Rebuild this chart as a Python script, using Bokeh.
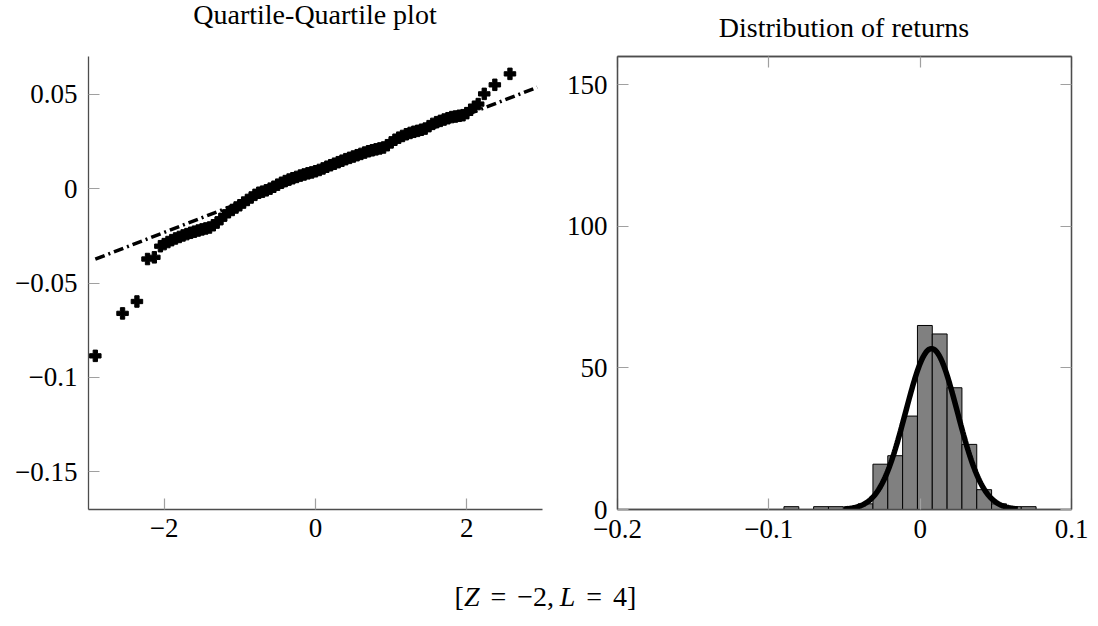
import numpy as np
from bokeh.plotting import figure
from bokeh.models import FixedTicker, LinearAxis, Range1d, Div
from bokeh.layouts import row, column
from bokeh.embed import file_html
from bokeh.resources import INLINE

# ---------------- data ----------------
# Q-Q plot: theoretical quantiles (x) vs. sample quantiles of returns (y)
qq_theoretical = [-2.91, -2.55, -2.36, -2.22, -2.13,
                  -2.05, -2.00, -1.95, -1.90, -1.85, -1.80, -1.75, -1.70, -1.65, -1.60,
                  -1.55, -1.50, -1.45, -1.40, -1.35, -1.30, -1.25, -1.20, -1.15, -1.10,
                  -1.05, -1.00, -0.95, -0.90, -0.85, -0.80, -0.75, -0.70, -0.65, -0.60,
                  -0.55, -0.50, -0.45, -0.40, -0.35, -0.30, -0.25, -0.20, -0.15, -0.10,
                  -0.05, 0.00, 0.05, 0.10, 0.15, 0.20, 0.25, 0.30, 0.35, 0.40,
                  0.45, 0.50, 0.55, 0.60, 0.65, 0.70, 0.75, 0.80, 0.85, 0.90,
                  0.95, 1.00, 1.05, 1.10, 1.15, 1.20, 1.25, 1.30, 1.35, 1.40,
                  1.45, 1.50, 1.55, 1.60, 1.65, 1.70, 1.75, 1.80, 1.85, 1.90,
                  1.95, 2.00, 2.05, 2.10, 2.15,
                  2.23, 2.37, 2.57]
qq_sample = [-0.0886, -0.0661, -0.0598, -0.0373, -0.0364,
             -0.0305, -0.0294, -0.0283, -0.0273, -0.0264, -0.0256, -0.0248, -0.0241, -0.0234, -0.0228,
             -0.0222, -0.0216, -0.0211, -0.0206, -0.0194, -0.0180, -0.0161, -0.0142, -0.0125, -0.0113,
             -0.0100, -0.0088, -0.0074, -0.0060, -0.0047, -0.0033, -0.0022, -0.0016, -0.0009, 0.0000,
             0.0010, 0.0021, 0.0031, 0.0040, 0.0048, 0.0055, 0.0062, 0.0069, 0.0075, 0.0081,
             0.0086, 0.0092, 0.0099, 0.0107, 0.0116, 0.0124, 0.0132, 0.0140, 0.0148, 0.0156,
             0.0163, 0.0170, 0.0177, 0.0184, 0.0191, 0.0198, 0.0203, 0.0208, 0.0213, 0.0218,
             0.0230, 0.0245, 0.0259, 0.0270, 0.0279, 0.0288, 0.0295, 0.0301, 0.0306, 0.0312,
             0.0318, 0.0331, 0.0343, 0.0352, 0.0359, 0.0366, 0.0373, 0.0379, 0.0382, 0.0386,
             0.0389, 0.0400, 0.0418, 0.0434, 0.0448,
             0.0502, 0.0550, 0.0608]

# reference line of the Q-Q plot (mean + sd * z)
ref_intercept = 0.0080
ref_slope = 0.0156
ref_domain = [-2.91, 2.93]

# histogram of returns
bin_edges = [-0.0900, -0.0802, -0.0704, -0.0606, -0.0508, -0.0410, -0.0312, -0.0214,
             -0.0116, -0.0018, 0.0080, 0.0178, 0.0276, 0.0374, 0.0472, 0.0570,
             0.0668, 0.0766]
bin_counts = [1, 0, 1, 1, 0, 2, 16, 19, 33, 65, 62, 43, 23, 7, 2, 1, 1]

# fitted normal curve
fit_mu = 0.0075
fit_sigma = 0.0171
fit_peak = 56.8
fit_domain = [-0.0505, 0.0645]

qq_xticks = [-2, 0, 2]
qq_xlabels = ["\u22122", "0", "2"]
qq_yticks = [-0.15, -0.1, -0.05, 0, 0.05]
qq_ylabels = ["\u22120.15", "\u22120.1", "\u22120.05", "0", "0.05"]
h_xticks = [-0.2, -0.1, 0, 0.1]
h_xlabels = ["\u22120.2", "\u22120.1", "0", "0.1"]
h_yticks = [0, 50, 100, 150]
h_ylabels = ["0", "50", "100", "150"]

titles = ["Quartile-Quartile plot", "Distribution of returns"]
caption_text = "[<i>Z</i> = \u22122,\u2009<i>L</i> = 4]"

FONT = "Liberation Serif"
TICK_FS = "27px"
TITLE_FS = "28px"
AXIS_COLOR = "#4d4d4d"
TICK_COLOR = "#a0a0a0"


def style_axis(ax, ticks, labels, show_labels=True, standoff=10):
    ax.ticker = FixedTicker(ticks=ticks)
    ax.axis_line_color = AXIS_COLOR
    ax.axis_line_width = 1.3
    ax.major_tick_line_color = TICK_COLOR
    ax.major_tick_line_width = 1.2
    ax.major_tick_in = 11
    ax.major_tick_out = 0
    ax.minor_tick_line_color = None
    ax.major_label_text_font = FONT
    if show_labels:
        ax.major_label_overrides = {t: l for t, l in zip(ticks, labels)}
        ax.major_label_text_color = "black"
        ax.major_label_text_font_size = TICK_FS
        ax.major_label_standoff = standoff
    else:
        ax.major_label_text_color = None
        ax.major_label_text_font_size = "1px"
        ax.major_label_standoff = 0


# ---------------- left: Q-Q plot ----------------
p1 = figure(width=552, height=516, x_range=Range1d(-3, 3), y_range=Range1d(-0.17, 0.07),
            output_backend="svg", toolbar_location=None,
            min_border_left=88, min_border_right=10, min_border_top=12, min_border_bottom=51)
p1.grid.visible = False
p1.outline_line_color = None
style_axis(p1.xaxis[0], qq_xticks, qq_xlabels, standoff=9)
style_axis(p1.yaxis[0], qq_yticks, qq_ylabels, standoff=11)

x0, x1 = ref_domain
p1.line([x0, x1], [ref_intercept + ref_slope * x0, ref_intercept + ref_slope * x1],
        line_color="black", line_width=3.5, line_dash="10 4 2 4")
p1.scatter(qq_theoretical, qq_sample, marker="plus", size=11.5, color="black")

# ---------------- right: histogram ----------------
p2 = figure(width=539, height=516, x_range=Range1d(-0.2, 0.1), y_range=Range1d(0, 160),
            output_backend="svg", toolbar_location=None,
            min_border_left=65, min_border_right=20, min_border_top=12, min_border_bottom=51)
p2.grid.visible = False
p2.outline_line_color = AXIS_COLOR
p2.outline_line_width = 1.3
style_axis(p2.xaxis[0], h_xticks, h_xlabels, standoff=10)
style_axis(p2.yaxis[0], h_yticks, h_ylabels, standoff=10)
top_ax = LinearAxis()
style_axis(top_ax, h_xticks, h_xlabels, show_labels=False)
p2.add_layout(top_ax, "above")
right_ax = LinearAxis()
style_axis(right_ax, h_yticks, h_ylabels, show_labels=False)
p2.add_layout(right_ax, "right")

p2.quad(left=bin_edges[:-1], right=bin_edges[1:], bottom=0, top=bin_counts,
        fill_color="#808080", line_color="black", line_width=1)

xs = np.linspace(fit_domain[0], fit_domain[1], 200)
ys = fit_peak * np.exp(-0.5 * ((xs - fit_mu) / fit_sigma) ** 2)
p2.line(xs, ys, line_color="black", line_width=5.5)

# ---------------- titles and caption ----------------
def title_div(text, width, pad_left, frame_w, pad_top):
    html = (f'<div style="margin-left:{pad_left}px; width:{frame_w}px; text-align:center; '
            f'padding-top:{pad_top}px; font-family:\'{FONT}\'; font-size:{TITLE_FS}; '
            f'line-height:30px; color:black; white-space:nowrap;">{text}</div>')
    return Div(text=html, width=width, height=44, margin=(0, 0, 0, 0))

t1 = title_div(titles[0], 552, 88, 454, 0)
t2 = title_div(titles[1], 539, 65, 454, 13)

caption = Div(text=(f'<div style="width:1091px; text-align:center; padding-top:22px; '
                    f'font-family:\'{FONT}\'; font-size:28px; line-height:30px; '
                    f'word-spacing:4px; color:black; white-space:nowrap;">'
                    f'{caption_text}</div>'),
              width=1091, height=60, margin=(0, 0, 0, 0))

layout = column(row(t1, t2), row(p1, p2), caption)

open("out.html", "w").write(file_html(layout, INLINE))
